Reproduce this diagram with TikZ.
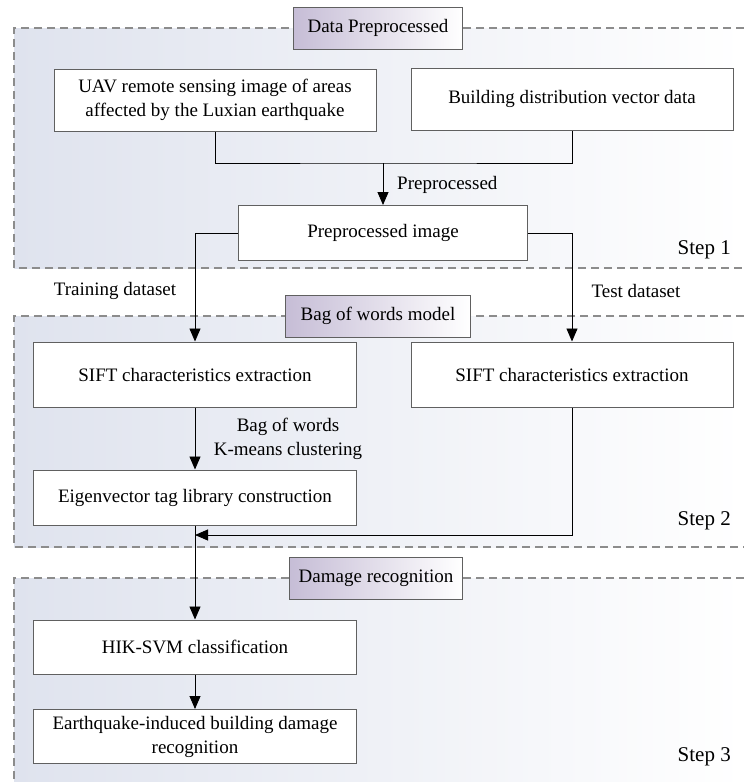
\documentclass[tikz,border=0pt]{standalone}
\usepackage{fontspec}
\setmainfont{Liberation Serif}
\usetikzlibrary{arrows.meta}
\definecolor{panelc}{HTML}{DFE3EE}
\definecolor{titlec}{HTML}{C6BDD6}
\definecolor{dashc}{HTML}{8C8C8C}
\definecolor{boxc}{HTML}{606060}
\tikzset{
  box/.style={draw=boxc, line width=1pt, fill=white, minimum width=#1, align=center,
    inner sep=0pt, font=\fontsize{19}{24}\selectfont},
  titlebox/.style={draw=boxc, line width=1pt, left color=titlec, right color=white,
    minimum height=42pt, inner sep=0pt, font=\fontsize{19}{24}\selectfont},
  lbl/.style={inner sep=0pt, font=\fontsize{19}{24}\selectfont, align=center},
  steplbl/.style={inner sep=0pt, font=\fontsize{21}{24}\selectfont},
  conn/.style={draw=black, line width=0.9pt},
  arr/.style={conn, -{Triangle[length=13pt,width=11pt]}},
  panelborder/.style={draw=dashc, line width=1.2pt, dash pattern=on 8pt off 5pt},
}
\begin{document}
\begin{tikzpicture}[x=1pt,y=-1pt]
\useasboundingbox[fill=white] (0,0) rectangle (744,782);
% panels
\shade[left color=panelc, right color=white] (14,28) rectangle (744,268);
\draw[panelborder] (744,28) -- (14,28) -- (14,268) -- (744,268);
\shade[left color=panelc, right color=white] (14,316) rectangle (744,547);
\draw[panelborder] (744,316) -- (14,316) -- (14,547) -- (744,547);
\shade[left color=panelc, right color=white] (14,578) rectangle (744,782);
\draw[panelborder] (744,578) -- (14,578) -- (14,782);
% title boxes
\node[titlebox, minimum width=169pt] (t1) at (378,28) {Data Preprocessed};
\node[titlebox, minimum width=185pt] (t2) at (378,316) {Bag of words model};
\node[titlebox, minimum width=173pt] (t3) at (376,578) {Damage recognition};
% boxes
\node[box=322pt, minimum height=62pt] (uav) at (215,100) {UAV remote sensing image of areas\\affected by the Luxian earthquake};
\node[box=322pt, minimum height=62pt] (bld) at (572,99) {Building distribution vector data};
\node[box=289pt, minimum height=55pt] (prep) at (383,233) {Preprocessed image};
\node[box=323pt, minimum height=65pt] (sift1) at (195,374.5) {SIFT characteristics extraction};
\node[box=322pt, minimum height=65pt] (sift2) at (572,374.5) {SIFT characteristics extraction};
\node[box=323pt, minimum height=55pt] (eig) at (195,497.5) {Eigenvector tag library construction};
\node[box=323pt, minimum height=54pt] (hik) at (195,647) {HIK-SVM classification};
\node[box=323pt, minimum height=54pt] (eq) at (195,736.5) {Earthquake-induced building damage\\recognition};
% labels
\node[lbl, anchor=west] (lprep) at (397,185) {Preprocessed};
\node[lbl] (ltrain) at (115,291) {Training dataset};
\node[lbl] (ltest) at (636,291) {Test dataset};
\node[lbl] (lbow) at (288,438.5) {Bag of words\\K-means clustering};
\node[steplbl, anchor=east] (s1) at (731,250) {Step 1};
\node[steplbl, anchor=east] (s2) at (731,521) {Step 2};
\node[steplbl, anchor=east] (s3) at (731,757) {Step 3};
% connectors
\coordinate (m) at (383,163);
\coordinate (j) at (195,535);
\draw[conn] (uav.south) |- (m) -| (bld.south);
\draw[arr] (m) -- (prep.north);
\draw[arr] (prep.west) -| (sift1.north);
\draw[arr] (prep.east) -| (sift2.north);
\draw[arr] (sift1.south) -- (eig.north);
\draw[arr] (sift2.south) |- (j);
\draw[arr] (eig.south) -- (hik.north);
\draw[arr] (hik.south) -- (eq.north);
\end{tikzpicture}
\end{document}
